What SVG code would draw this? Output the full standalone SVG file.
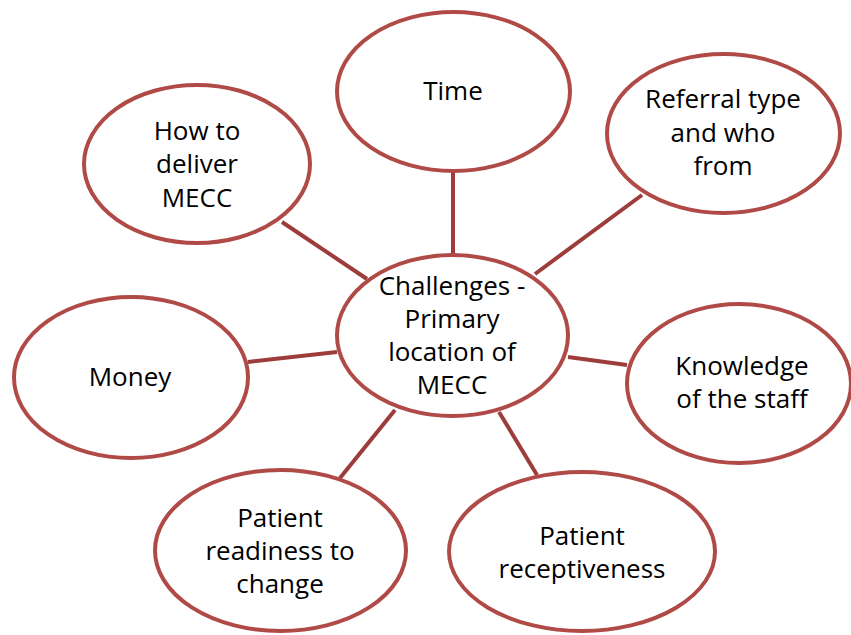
<svg xmlns="http://www.w3.org/2000/svg" width="851" height="635" viewBox="0 0 851 635">
  <style>
    .bubble { fill: #ffffff; stroke: #b04a47; stroke-width: 4; }
    .link { stroke: #9c3d3b; stroke-width: 4; fill: none; }
    .label { font-family: "Open Sans", "Liberation Sans", sans-serif; font-size: 26px; fill: #000000; text-anchor: middle; }
  </style>
  <rect width="851" height="635" fill="#ffffff"/>

  <!-- spokes from the hub to each bubble -->
  <g id="connectors">
    <line class="link" x1="453" y1="171" x2="453" y2="255"/>
    <line class="link" x1="642" y1="195" x2="535" y2="274"/>
    <line class="link" x1="282" y1="222" x2="367" y2="279"/>
    <line class="link" x1="248" y1="362" x2="337" y2="352"/>
    <line class="link" x1="568" y1="357" x2="627" y2="365"/>
    <line class="link" x1="395" y1="410" x2="340" y2="478"/>
    <line class="link" x1="499" y1="412" x2="537" y2="475"/>
  </g>

  <g id="hub">
    <ellipse class="bubble" cx="452.5" cy="335.5" rx="115.5" ry="80.5"/>
    <text class="label" x="452" y="295">Challenges -</text>
    <text class="label" x="452" y="328">Primary</text>
    <text class="label" x="452" y="361">location of</text>
    <text class="label" x="452" y="394">MECC</text>
  </g>

  <g id="time">
    <ellipse class="bubble" cx="453.5" cy="91.5" rx="116.5" ry="79.5"/>
    <text class="label" x="453" y="100">Time</text>
  </g>

  <g id="referral">
    <ellipse class="bubble" cx="723.5" cy="133.5" rx="116.5" ry="79.5"/>
    <text class="label" x="723" y="108">Referral type</text>
    <text class="label" x="723" y="142">and who</text>
    <text class="label" x="723" y="175">from</text>
  </g>

  <g id="how-to-deliver">
    <ellipse class="bubble" cx="197" cy="164" rx="113" ry="79"/>
    <text class="label" x="197" y="140">How to</text>
    <text class="label" x="197" y="173">deliver</text>
    <text class="label" x="197" y="207">MECC</text>
  </g>

  <g id="money">
    <ellipse class="bubble" cx="131" cy="377.5" rx="117" ry="80.5"/>
    <text class="label" x="130" y="386">Money</text>
  </g>

  <g id="knowledge">
    <ellipse class="bubble" cx="739" cy="383.5" rx="112" ry="79.5"/>
    <text class="label" x="742" y="375">Knowledge</text>
    <text class="label" x="742" y="408">of the staff</text>
  </g>

  <g id="readiness">
    <ellipse class="bubble" cx="280.5" cy="550.5" rx="125.5" ry="80.5"/>
    <text class="label" x="280" y="527">Patient</text>
    <text class="label" x="280" y="560">readiness to</text>
    <text class="label" x="280" y="593">change</text>
  </g>

  <g id="receptiveness">
    <ellipse class="bubble" cx="582" cy="551.5" rx="133" ry="79.5"/>
    <text class="label" x="582" y="545">Patient</text>
    <text class="label" x="582" y="578">receptiveness</text>
  </g>
</svg>
